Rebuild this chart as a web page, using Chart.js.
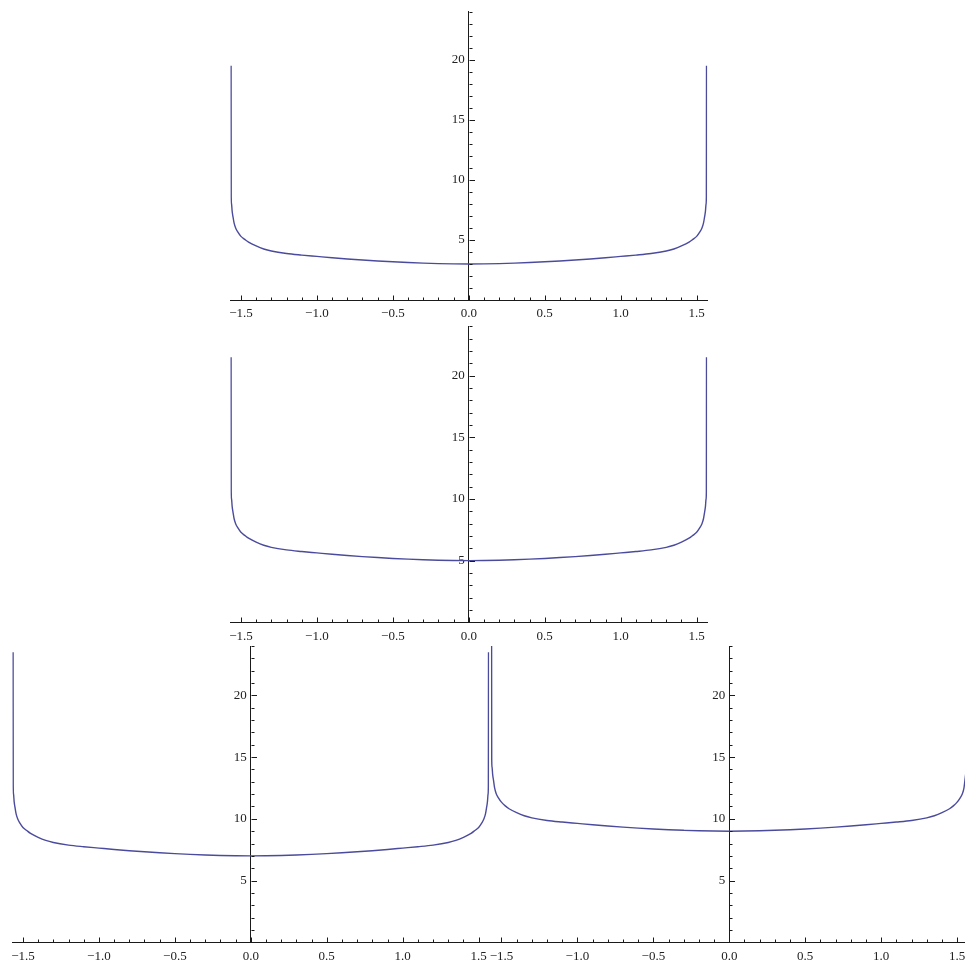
<!DOCTYPE html>
<html lang="en">

<head>
    <meta charset="UTF-8">
    <title>Four plots</title>
    <script src="https://cdn.jsdelivr.net/npm/chart.js"></script>
    <style>
        html, body {
            margin: 0;
            padding: 0;
            background: #ffffff;
            overflow: hidden;
            width: 965px;
            height: 966px;
        }

        canvas {
            position: absolute;
        }
    </style>
</head>

<body>
    <canvas id="plot1" width="540" height="330" style="left:200px; top:0px;"></canvas>
    <canvas id="plot2" width="540" height="340" style="left:200px; top:310px;"></canvas>
    <canvas id="plot3" width="520" height="336" style="left:0px; top:630px;"></canvas>
    <canvas id="plot4" width="530" height="336" style="left:470px; top:630px;"></canvas>

    <script>
        // sample positions along x (shared by all four plots)
        const xValues = [-1.565, -1.564, -1.562, -1.558, -1.552, -1.545, -1.535, -1.52, -1.5, -1.475, -1.45, -1.4, -1.35,
            -1.3, -1.2, -1.1, -1.0, -0.9, -0.8, -0.7, -0.6, -0.5, -0.4, -0.3, -0.2, -0.1, 0,
            0.1, 0.2, 0.3, 0.4, 0.5, 0.6, 0.7, 0.8, 0.9, 1.0, 1.1, 1.2, 1.3, 1.35, 1.4, 1.45, 1.475, 1.5, 1.52,
            1.535, 1.545, 1.552, 1.558, 1.562, 1.564, 1.565];

        // values
        const plot1Values = [19.5, 8.6, 8.0, 7.4, 6.9, 6.4, 6.0, 5.65, 5.3, 5.05, 4.82, 4.5, 4.25, 4.08, 3.87, 3.74, 3.63,
            3.52, 3.42, 3.33, 3.25, 3.18, 3.12, 3.07, 3.03, 3.01, 3.0,
            3.01, 3.03, 3.07, 3.12, 3.18, 3.25, 3.33, 3.42, 3.52, 3.63, 3.74, 3.87, 4.08, 4.25, 4.5, 4.82, 5.05, 5.3,
            5.65, 6.0, 6.4, 6.9, 7.4, 8.0, 8.6, 19.5];
        const plot2Values = [21.5, 10.6, 10.0, 9.4, 8.9, 8.4, 8.0, 7.65, 7.3, 7.05, 6.82, 6.5, 6.25, 6.08, 5.87, 5.74, 5.63,
            5.52, 5.42, 5.33, 5.25, 5.18, 5.12, 5.07, 5.03, 5.01, 5.0,
            5.01, 5.03, 5.07, 5.12, 5.18, 5.25, 5.33, 5.42, 5.52, 5.63, 5.74, 5.87, 6.08, 6.25, 6.5, 6.82, 7.05, 7.3,
            7.65, 8.0, 8.4, 8.9, 9.4, 10.0, 10.6, 21.5];
        const plot3Values = [23.5, 12.7, 12.0, 11.4, 10.9, 10.4, 10.0, 9.65, 9.3, 9.05, 8.82, 8.5, 8.25, 8.08, 7.87, 7.74, 7.63,
            7.52, 7.42, 7.33, 7.25, 7.18, 7.12, 7.07, 7.03, 7.01, 7.0,
            7.01, 7.03, 7.07, 7.12, 7.18, 7.25, 7.33, 7.42, 7.52, 7.63, 7.74, 7.87, 8.08, 8.25, 8.5, 8.82, 9.05, 9.3,
            9.65, 10.0, 10.4, 10.9, 11.4, 12.0, 12.7, 23.5];
        const plot4Values = [25.5, 14.8, 14.2, 13.6, 13.1, 12.5, 12.05, 11.7, 11.35, 11.05, 10.82, 10.5, 10.25, 10.08, 9.87, 9.74, 9.63,
            9.52, 9.42, 9.33, 9.25, 9.18, 9.12, 9.07, 9.03, 9.01, 9.0,
            9.01, 9.03, 9.07, 9.12, 9.18, 9.25, 9.33, 9.42, 9.52, 9.63, 9.74, 9.87, 10.08, 10.25, 10.5, 10.82, 11.05, 11.35,
            11.7, 12.05, 12.5, 13.2, 13.8, 14.3, 14.8, 25.5];

        // axis ticks
        const xMajorTicks = [-1.5, -1.0, -0.5, 0, 0.5, 1.0, 1.5];
        const yMajorTicks = [5, 10, 15, 20];
        const xRange = [-1.5708, 1.5708];
        const yRange = [0, 24];

        const lineColor = '#4b4b9d';
        const axisColor = '#1a1a1a';
        const labelFont = { family: "'Liberation Serif', 'DejaVu Serif', serif", size: 13 };

        function isMajor(list, v) {
            return list.some(m => Math.abs(m - v) < 1e-6);
        }

        // Mathematica-style ticks: drawn inward, labels on the other side
        const inwardTicks = {
            id: 'inwardTicks',
            afterDraw(chart) {
                const ctx = chart.ctx;
                const xs = chart.scales.x;
                const ys = chart.scales.y;
                const x0 = Math.round(xs.getPixelForValue(0)) + 0.5;
                const y0 = Math.round(ys.getPixelForValue(0)) + 0.5;
                ctx.save();
                ctx.strokeStyle = axisColor;
                ctx.lineWidth = 1;
                ctx.beginPath();
                xs.ticks.forEach(t => {
                    const px = Math.round(xs.getPixelForValue(t.value)) + 0.5;
                    const len = isMajor(xMajorTicks, t.value) ? 5 : 3;
                    ctx.moveTo(px, y0);
                    ctx.lineTo(px, y0 - len);
                });
                ys.ticks.forEach(t => {
                    const py = Math.round(ys.getPixelForValue(t.value)) + 0.5;
                    const len = isMajor(yMajorTicks, t.value) ? 5.5 : 3;
                    ctx.moveTo(x0, py);
                    ctx.lineTo(x0 + len, py);
                });
                ctx.stroke();
                ctx.restore();
            }
        };

        function makePlot(id, values, padding) {
            const points = xValues.map((x, i) => ({ x: x, y: values[i] }));
            return new Chart(document.getElementById(id), {
                type: 'scatter',
                data: {
                    datasets: [{
                        data: points,
                        showLine: true,
                        borderColor: lineColor,
                        borderWidth: 1.4,
                        pointRadius: 0,
                        cubicInterpolationMode: 'monotone'
                    }]
                },
                options: {
                    responsive: false,
                    animation: false,
                    layout: { padding: padding },
                    plugins: {
                        legend: { display: false },
                        tooltip: { enabled: false }
                    },
                    scales: {
                        x: {
                            type: 'linear',
                            position: { y: 0 },
                            min: xRange[0],
                            max: xRange[1],
                            afterBuildTicks: scale => {
                                const ticks = [];
                                for (let k = -15; k <= 15; k++) ticks.push({ value: k / 10 });
                                scale.ticks = ticks;
                            },
                            ticks: {
                                autoSkip: false,
                                maxRotation: 0,
                                padding: 6,
                                color: '#222',
                                font: labelFont,
                                callback: v => isMajor(xMajorTicks, v) ? v.toFixed(1).replace('-', '\u2212') : ''
                            },
                            grid: { display: false, drawTicks: false },
                            border: { display: true, color: axisColor, width: 1 }
                        },
                        y: {
                            type: 'linear',
                            position: 'center',
                            min: yRange[0],
                            max: yRange[1],
                            afterBuildTicks: scale => {
                                const ticks = [];
                                for (let k = 1; k <= 24; k++) ticks.push({ value: k });
                                scale.ticks = ticks;
                            },
                            ticks: {
                                autoSkip: false,
                                padding: 4,
                                color: '#222',
                                font: labelFont,
                                callback: v => isMajor(yMajorTicks, v) ? String(v) : ''
                            },
                            grid: { display: false, drawTicks: false },
                            border: { display: true, color: axisColor, width: 1 }
                        }
                    }
                },
                plugins: [inwardTicks]
            });
        }

        makePlot('plot1', plot1Values, { left: 30.2, right: 32.6, top: 5.5, bottom: 30 });
        makePlot('plot2', plot2Values, { left: 30.2, right: 32.6, top: 16.4, bottom: 27.7 });
        makePlot('plot3', plot3Values, { left: 12.2, right: 30.6, top: 16, bottom: 23.7 });
        makePlot('plot4', plot4Values, { left: 20.7, right: 32.1, top: 16, bottom: 23.7 });
    </script>
</body>

</html>
